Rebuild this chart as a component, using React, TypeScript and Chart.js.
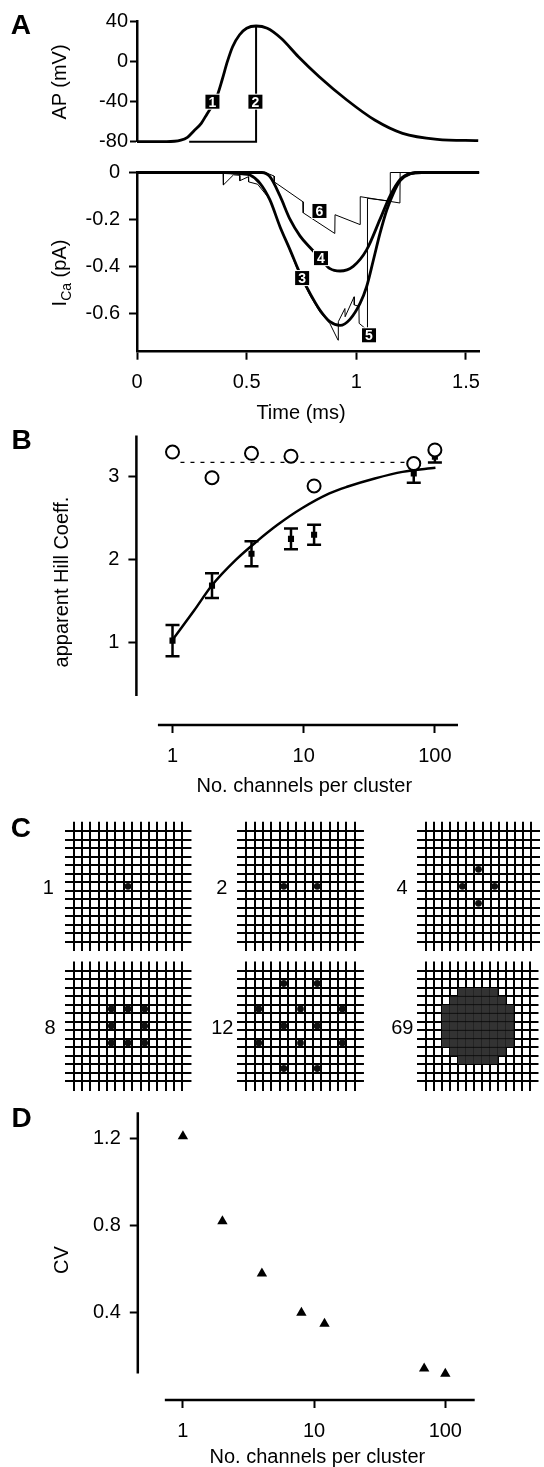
import React, { useEffect, useRef } from "react";
import { Chart, registerables } from "chart.js";
Chart.register(...registerables);

const W = 544;
const H = 1467;
const FONT = "'Liberation Sans', Arial, Helvetica, sans-serif";
Chart.defaults.font.family = FONT;

// ---------------- Panel A (top): action potential ----------------
const AP_T = [0, 0.135, 0.2, 0.23, 0.26, 0.293, 0.32, 0.34, 0.364, 0.388, 0.412, 0.436, 0.467, 0.5, 0.543, 0.594, 0.657, 0.736, 0.831, 0.957, 1.084, 1.211, 1.369, 1.556];
const AP_V = [-80, -80, -78.5, -75.6, -69, -61.6, -52, -45, -35, -18.3, 0, 15, 26.7, 33.4, 35.7, 33.4, 23.4, 5, -15, -38.3, -58.3, -71.6, -77.6, -79];
const STEP_T = [0.238, 0.543, 0.543];
const STEP_V = [-80, -80, 35.7];
const AP_TICKS = [-80, -40, 0, 40];
const AP_BOX_T = [0.344, 0.54];
const AP_BOX_V = [-40, -40];
const AP_BOX_TEXT = ["1", "2"];

// ---------------- Panel A (bottom): Ca current ----------------
const I3_T = [0, 0.4, 0.44, 0.48, 0.515, 0.561, 0.606, 0.652, 0.698, 0.743, 0.789, 0.834, 0.88, 0.926, 0.971, 1.017, 1.047, 1.078, 1.108, 1.139, 1.169, 1.2, 1.245, 1.3, 1.56];
const I3_V = [0, 0, -0.003, -0.006, -0.011, -0.046, -0.117, -0.231, -0.33, -0.43, -0.515, -0.586, -0.636, -0.652, -0.626, -0.558, -0.487, -0.373, -0.26, -0.16, -0.089, -0.035, -0.006, 0, 0];
const I4_T = [0, 0.57, 0.606, 0.652, 0.698, 0.743, 0.789, 0.835, 0.88, 0.926, 0.986, 1.047, 1.108, 1.154, 1.2, 1.245, 1.3, 1.56];
const I4_V = [0, 0, -0.018, -0.1, -0.2, -0.27, -0.32, -0.365, -0.41, -0.42, -0.4, -0.33, -0.2, -0.1, -0.03, -0.005, 0, 0];
const I5_T = [0, 0.393, 0.394, 0.44, 0.468, 0.469, 0.508, 0.509, 0.55, 0.606, 0.652, 0.698, 0.743, 0.789, 0.834, 0.88, 0.917, 0.918, 0.948, 0.949, 0.99, 0.991, 1.012, 1.013, 1.05, 1.051, 1.154, 1.155, 1.56];
const I5_V = [0, 0, -0.053, -0.01, -0.012, -0.035, -0.018, -0.04, -0.05, -0.115, -0.23, -0.335, -0.44, -0.525, -0.595, -0.645, -0.715, -0.636, -0.58, -0.615, -0.53, -0.565, -0.57, -0.643, -0.672, -0.11, -0.122, 0, 0];
const I6_T = [0, 0.585, 0.625, 0.626, 0.757, 0.758, 0.902, 0.903, 1.017, 1.018, 1.199, 1.2, 1.56];
const I6_V = [0, 0, -0.015, -0.04, -0.125, -0.172, -0.26, -0.18, -0.222, -0.103, -0.13, 0, 0];
const TIME_TICKS = [0, 0.5, 1, 1.5];
const ICA_TICKS = [-0.6, -0.4, -0.2, 0];
const ICA_BOX_T = [0.753, 0.839, 1.058, 0.832];
const ICA_BOX_V = [-0.45, -0.365, -0.694, -0.164];
const ICA_BOX_TEXT = ["3", "4", "5", "6"];

// ---------------- Panel B: apparent Hill coefficient ----------------
const CLUSTER_N = [1, 2, 4, 8, 12, 69, 100];
const HILL_OPEN = [3.3, 2.99, 3.285, 3.25, 2.89, 3.16, 3.325];
const HILL_APPARENT = [1.02, 1.685, 2.07, 2.25, 2.3, 3.04, 3.245];
const HILL_ERR = [0.19, 0.15, 0.15, 0.125, 0.12, 0.11, 0.07];
const FIT_N = [1, 1.47, 2, 3.05, 4.39, 6.32, 9.69, 15.7, 21.4, 34.8, 56.6, 101];
const FIT_H = [1.03, 1.39, 1.69, 2.0, 2.22, 2.42, 2.62, 2.8, 2.88, 2.98, 3.06, 3.11];
const DASH_N = [1.15, 68];
const DASH_H = [3.175, 3.175];
const HILL_TICKS = [1, 2, 3];
const N_TICKS = [1, 10, 100];

// ---------------- Panel C: cluster layouts (cell col, row) ----------------
const GRID_LINES = [0, 1, 2, 3, 4, 5, 6, 7, 8, 9, 10, 11, 12, 13];
const CLUSTER_1 = [[6, 6]];
const CLUSTER_2 = [[4, 6], [8, 6]];
const CLUSTER_4 = [[6, 4], [4, 6], [8, 6], [6, 8]];
const CLUSTER_8 = [[4, 4], [6, 4], [8, 4], [4, 6], [8, 6], [4, 8], [6, 8], [8, 8]];
const CLUSTER_12 = [[4, 1], [8, 1], [1, 4], [6, 4], [11, 4], [4, 6], [8, 6], [1, 8], [6, 8], [11, 8], [4, 11], [8, 11]];
const CLUSTER_69_ROW_WIDTHS = [5, 7, 9, 9, 9, 9, 9, 7, 5];
const CLUSTER_69: number[][] = [];
CLUSTER_69_ROW_WIDTHS.forEach((w, i) => {
  const row = 2 + i;
  const start = 6 - (w - 1) / 2;
  for (let k = 0; k < w; k++) CLUSTER_69.push([start + k, row]);
});
const CLUSTER_LABELS = ["1", "2", "4", "8", "12", "69"];

// ---------------- Panel D: CV ----------------
const CV = [1.21, 0.82, 0.58, 0.4, 0.35, 0.145, 0.12];
const CV_TICKS = [0.4, 0.8, 1.2];

// ---------------- helpers ----------------
// chart area in page pixels; the y scale box fills [0, left], the x scale box fills [bottom, H]
const area = (l: number, t: number, r: number, b: number) => ({ left: 0, top: t, right: W - r, bottom: 0, _l: l, _b: b });
const fixTicks = (vals: number[]) => (s: any) => {
  s.ticks = vals.map((v) => ({ value: v }));
};
const setW = (w: number) => (s: any) => {
  s.width = w;
};
const setH = (h: number) => (s: any) => {
  s.height = h;
};
const pts = (xs: number[], ys: number[]) => xs.map((x, i) => ({ x, y: ys[i] }));
const tickFont = { family: FONT, size: 20 };
const base = {
  responsive: false,
  maintainAspectRatio: false,
  animation: false,
  devicePixelRatio: 1,
  events: [] as any[],
  plugins: { legend: { display: false }, tooltip: { enabled: false } },
};
const tickGrid = (len: number) => ({ drawOnChartArea: false, drawTicks: true, tickLength: len, tickWidth: 2, tickColor: "#000" });

const boxLabels = (ts: number[], vs: number[], texts: string[]) => ({
  id: "boxLabels",
  afterDatasetsDraw(chart: any) {
    const { ctx, scales } = chart;
    const size = 14;
    ctx.save();
    ts.forEach((t, i) => {
      const px = scales.x.getPixelForValue(t);
      const py = scales.y.getPixelForValue(vs[i]);
      ctx.fillStyle = "#fff";
      ctx.fillRect(px - size / 2 - 1, py - size / 2 - 1, size + 2, size + 2);
      ctx.fillStyle = "#000";
      ctx.fillRect(px - size / 2, py - size / 2, size, size);
      ctx.fillStyle = "#fff";
      ctx.font = `bold 14px ${FONT}`;
      ctx.textAlign = "center";
      ctx.textBaseline = "middle";
      ctx.fillText(texts[i], px, py + 1);
    });
    ctx.restore();
  },
});

const errorBars = (xs: number[], ys: number[], errs: number[]) => ({
  id: "errorBars",
  beforeDatasetsDraw(chart: any) {
    const { ctx, scales } = chart;
    ctx.save();
    ctx.strokeStyle = "#000";
    ctx.lineWidth = 2.5;
    xs.forEach((xv, i) => {
      const px = scales.x.getPixelForValue(xv);
      const top = scales.y.getPixelForValue(ys[i] + errs[i]);
      const bot = scales.y.getPixelForValue(ys[i] - errs[i]);
      ctx.beginPath();
      ctx.moveTo(px, top);
      ctx.lineTo(px, bot);
      ctx.moveTo(px - 7, top);
      ctx.lineTo(px + 7, top);
      ctx.moveTo(px - 7, bot);
      ctx.lineTo(px + 7, bot);
      ctx.stroke();
    });
    ctx.restore();
  },
});

const axisLines = (xFrom: number, yTo: number) => ({
  id: "axisLines",
  afterDraw(chart: any) {
    const { ctx, chartArea, scales } = chart;
    ctx.save();
    ctx.strokeStyle = "#000";
    ctx.lineWidth = 2.5;
    ctx.beginPath();
    ctx.moveTo(chartArea.left, chartArea.top);
    ctx.lineTo(chartArea.left, scales.y.getPixelForValue(yTo));
    ctx.moveTo(scales.x.getPixelForValue(xFrom), chartArea.bottom);
    ctx.lineTo(chartArea.right, chartArea.bottom);
    ctx.stroke();
    ctx.restore();
  },
});

const thick = (data: any[]) => ({ data, borderColor: "#000", borderWidth: 2.8, pointRadius: 0, cubicInterpolationMode: "monotone", clip: false });
const thin = (data: any[]) => ({ data, borderColor: "#000", borderWidth: 1, pointRadius: 0, tension: 0, clip: false });

const yLin = (min: number, max: number, ticks: number[], left: number, padding: number, len: number, border: boolean) => ({
  type: "linear", min, max, bounds: "data",
  afterBuildTicks: fixTicks(ticks), afterFit: setW(left),
  ticks: { color: "#000", font: tickFont, padding, callback: (v: any) => String(v) },
  grid: tickGrid(len),
  border: border ? { display: true, color: "#000", width: 2.5 } : { display: false },
});
const xAxis = (type: string, min: number, max: number, ticks: number[], bottom: number, padding: number, border: boolean) => ({
  type, min, max, bounds: "data",
  afterBuildTicks: fixTicks(ticks), afterFit: setH(H - bottom),
  ticks: { color: "#000", font: tickFont, padding, maxRotation: 0, autoSkip: false, callback: (v: any) => String(v) },
  grid: tickGrid(8),
  border: border ? { display: true, color: "#000", width: 2.5 } : { display: false },
});

// ---------------- chart configs ----------------
const A_LEFT = 137;
const A_RIGHT = 479.1;

const apConfig = () => ({
  type: "line",
  data: { datasets: [thick(pts(AP_T, AP_V)), { ...thin(pts(STEP_T, STEP_V)), borderWidth: 2 }] },
  options: {
    ...base,
    layout: { padding: { left: 0, top: 21.7, right: W - A_RIGHT, bottom: H - 141.7 } },
    scales: {
      x: { type: "linear", min: 0, max: 1.56, display: false },
      y: yLin(-80, 40, AP_TICKS, A_LEFT, 2, 7, true),
    },
  },
  plugins: [boxLabels(AP_BOX_T, AP_BOX_V, AP_BOX_TEXT)],
});

const icaConfig = () => ({
  type: "line",
  data: {
    datasets: [
      thick(pts(I3_T, I3_V)),
      thick(pts(I4_T, I4_V)),
      thin(pts(I5_T, I5_V)),
      thin(pts(I6_T, I6_V)),
    ],
  },
  options: {
    ...base,
    layout: { padding: { left: 0, top: 172.5, right: W - A_RIGHT, bottom: 0 } },
    scales: {
      x: xAxis("linear", 0, 1.56, TIME_TICKS, 351.7, 11, true),
      y: yLin(-0.764, 0, ICA_TICKS, A_LEFT, 9, 8, true),
    },
  },
  plugins: [boxLabels(ICA_BOX_T, ICA_BOX_V, ICA_BOX_TEXT)],
});

const hillConfig = () => ({
  type: "scatter",
  data: {
    datasets: [
      { data: pts(CLUSTER_N, HILL_OPEN), pointStyle: "circle", pointRadius: 6.5, pointBorderWidth: 2, pointBorderColor: "#000", pointBackgroundColor: "#fff" },
      { data: pts(CLUSTER_N, HILL_APPARENT), pointStyle: "rect", pointRadius: 4.3, pointBorderWidth: 0, pointBackgroundColor: "#000" },
      { data: pts(FIT_N, FIT_H), showLine: true, borderColor: "#000", borderWidth: 2.5, pointRadius: 0, cubicInterpolationMode: "monotone" },
      { data: pts(DASH_N, DASH_H), showLine: true, borderColor: "#000", borderWidth: 1.2, borderDash: [4, 6], pointRadius: 0 },
    ],
  },
  options: {
    ...base,
    layout: { padding: { left: 0, top: 435.5, right: W - 458, bottom: 0 } },
    scales: {
      x: { ...xAxis("logarithmic", 0.5306, 150, N_TICKS, 725, 11.5, false), afterFit: setH(H - 725) },
      y: yLin(0, 3.5, HILL_TICKS, 136.4, 9, 8, false),
    },
  },
  plugins: [errorBars(CLUSTER_N, HILL_APPARENT, HILL_ERR), axisLines(0.774, 0.35)],
});

const cvConfig = () => ({
  type: "scatter",
  data: {
    datasets: [
      { data: pts(CLUSTER_N, CV), pointStyle: "triangle", pointRadius: 6, pointBorderWidth: 0, pointBackgroundColor: "#000" },
    ],
  },
  options: {
    ...base,
    layout: { padding: { left: 0, top: 1112.2, right: W - 474.7, bottom: 0 } },
    scales: {
      x: xAxis("logarithmic", 0.453, 167.5, N_TICKS, 1400, 11.5, false),
      y: yLin(0, 1.32, CV_TICKS, 137.8, 9, 8, false),
    },
  },
  plugins: [axisLines(0.728, 0.122)],
});

const CELL_W = 8.35;
const CELL_H = 8.5;
const GRID_EXT = 1.1;
const GRID_CX = [128, 300.5, 480.5];
const GRID_CY = [886.3, 1026];
const CLUSTERS = [CLUSTER_1, CLUSTER_2, CLUSTER_4, CLUSTER_8, CLUSTER_12, CLUSTER_69];

const gridAxis = (reverse: boolean, fit: (s: any) => void) => ({
  type: "linear",
  min: -GRID_EXT,
  max: 13 + GRID_EXT,
  bounds: "data",
  reverse,
  afterBuildTicks: fixTicks(GRID_LINES),
  afterFit: fit,
  ticks: { display: false },
  grid: { color: "#000", lineWidth: 2, drawTicks: false },
  border: { display: false },
});

const gridConfig = (idx: number) => () => {
  const cx = GRID_CX[idx % 3];
  const cy = GRID_CY[Math.floor(idx / 3)];
  const hw = (6.5 + GRID_EXT) * CELL_W;
  const hh = (6.5 + GRID_EXT) * CELL_H;
  const big = CLUSTERS[idx].length > 20;
  return {
    type: "scatter",
    data: {
      datasets: [
        {
          data: CLUSTERS[idx].map(([c, r]) => ({ x: c + 0.5, y: r + 0.5 })),
          pointStyle: big ? "rect" : "circle",
          pointRadius: big ? 5.5 : 3.4,
          pointBorderWidth: 0,
          pointBackgroundColor: big ? "#333" : "#111",
          clip: false,
        },
      ],
    },
    options: {
      ...base,
      layout: { padding: { left: cx - hw, top: cy - hh, right: W - (cx + hw), bottom: H - (cy + hh) } },
      scales: { x: gridAxis(false, setH(0)), y: gridAxis(true, setW(0)) },
    },
  };
};

// ---------------- components ----------------
function ChartCanvas({ make }: { make: () => any }) {
  const ref = useRef<HTMLCanvasElement>(null);
  useEffect(() => {
    const chart = new Chart(ref.current as HTMLCanvasElement, make());
    return () => chart.destroy();
  }, []);
  return <canvas ref={ref} width={W} height={H} style={{ position: "absolute", left: 0, top: 0, width: W, height: H }} />;
}

type TxtProps = { x: number; y: number; children: React.ReactNode; size?: number; bold?: boolean; rotate?: boolean; w?: number; align?: "center" | "right" };
function Txt({ x, y, children, size = 20, bold = false, rotate = false, w = 300, align = "center" }: TxtProps) {
  const lh = Math.round(size * 1.2);
  const left = align === "center" ? x - w / 2 : x - w;
  return (
    <div
      style={{
        position: "absolute", left, top: y - lh / 2, width: w, height: lh, lineHeight: `${lh}px`,
        fontSize: size, fontFamily: FONT, fontWeight: bold ? 700 : 400, textAlign: align,
        whiteSpace: "nowrap", color: "#000", transform: rotate ? "rotate(-90deg)" : undefined,
      }}
    >
      {children}
    </div>
  );
}

const LABEL_RIGHT = [53.8, 227.3, 407.7, 55.5, 233.5, 413.5];

export default function App() {
  return (
    <div style={{ position: "absolute", left: 0, top: 0, width: W, height: H, background: "#fff", overflow: "hidden" }}>
      <ChartCanvas make={apConfig} />
      <ChartCanvas make={icaConfig} />
      <ChartCanvas make={hillConfig} />
      {CLUSTERS.map((_, i) => (
        <ChartCanvas key={i} make={gridConfig(i)} />
      ))}
      <ChartCanvas make={cvConfig} />

      <Txt x={20.8} y={25} size={28} bold w={40}>A</Txt>
      <Txt x={21.5} y={440} size={28} bold w={40}>B</Txt>
      <Txt x={20.8} y={827.5} size={28} bold w={40}>C</Txt>
      <Txt x={21.5} y={1118} size={28} bold w={40}>D</Txt>

      <Txt x={59} y={81.7} rotate w={160}>AP (mV)</Txt>
      <Txt x={59} y={273} rotate w={160}>
        I<span style={{ fontSize: 14, position: "relative", top: 5 }}>Ca</span> (pA)
      </Txt>
      <Txt x={301} y={411.7} w={200}>Time (ms)</Txt>

      <Txt x={60.7} y={581.7} rotate w={260}>apparent Hill Coeff.</Txt>
      <Txt x={304.3} y={785} w={300}>No. channels per cluster</Txt>

      {CLUSTER_LABELS.map((t, i) => (
        <Txt key={t} x={LABEL_RIGHT[i]} y={GRID_CY[Math.floor(i / 3)] + 1} align="right" w={40}>{t}</Txt>
      ))}

      <Txt x={60.7} y={1260} rotate w={80}>CV</Txt>
      <Txt x={317.4} y={1455.5} w={300}>No. channels per cluster</Txt>
    </div>
  );
}
